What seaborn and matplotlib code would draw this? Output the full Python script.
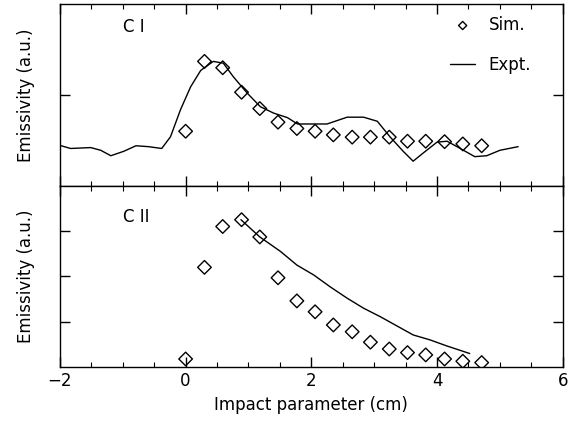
import matplotlib
matplotlib.use("Agg")
import matplotlib.pyplot as plt
import seaborn as sns
import numpy as np
from matplotlib.ticker import MultipleLocator

# ==================== Data ====================
sim_x = [0.0, 0.3, 0.59, 0.89, 1.18, 1.47, 1.77, 2.06, 2.35, 2.65, 2.94,
         3.24, 3.53, 3.82, 4.12, 4.41, 4.71]

# C I (top panel)
ci_sim = [0.60, 1.37, 1.30, 1.03, 0.85, 0.70, 0.63, 0.60, 0.56, 0.535, 0.535,
          0.535, 0.49, 0.49, 0.485, 0.46, 0.44]
ci_expt_x = [-1.98, -1.83, -1.51, -1.35, -1.19, -0.98, -0.79, -0.59, -0.38,
             -0.24, -0.08, 0.08, 0.24, 0.44, 0.60, 0.76, 0.98, 1.19, 1.40,
             1.62, 1.78, 2.25, 2.57, 2.83, 3.05, 3.25, 3.46, 3.62, 3.78,
             4.00, 4.16, 4.37, 4.60, 4.79, 5.00, 5.29]
ci_expt_y = [0.44, 0.41, 0.42, 0.39, 0.33, 0.38, 0.44, 0.43, 0.41,
             0.54, 0.84, 1.09, 1.27, 1.37, 1.35, 1.20, 1.02, 0.87, 0.80,
             0.75, 0.68, 0.68, 0.755, 0.755, 0.71, 0.54, 0.38, 0.27, 0.36,
             0.48, 0.49, 0.41, 0.32, 0.33, 0.39, 0.43]

# C II (bottom panel)
cii_sim = [0.18, 2.20, 3.10, 3.25, 2.87, 1.97, 1.46, 1.22, 0.93, 0.78, 0.55,
           0.40, 0.32, 0.27, 0.18, 0.13, 0.10]
cii_expt_x = [0.88, 1.18, 1.51, 1.77, 2.04, 2.30, 2.57, 2.83, 3.10, 3.36,
              3.62, 3.89, 4.15, 4.52]
cii_expt_y = [3.25, 2.87, 2.55, 2.25, 2.03, 1.77, 1.52, 1.30, 1.11, 0.91,
              0.71, 0.60, 0.47, 0.30]

# ==================== Style ====================
sns.set_style("ticks")
plt.rcParams.update({
    'font.family': ['DejaVu Sans'],
    'font.size': 12,
    'text.color': 'black',
    'axes.labelcolor': 'black',
    'axes.edgecolor': 'black',
    'xtick.color': 'black',
    'ytick.color': 'black',
    'axes.linewidth': 1.0,
})

fig, (ax1, ax2) = plt.subplots(2, 1, figsize=(5.76, 4.22), dpi=100, sharex=True)
fig.subplots_adjust(left=0.104, right=0.977, top=0.99, bottom=0.13, hspace=0)

marker_kw = dict(marker='D', s=48, facecolor='none', edgecolor='black', linewidth=1.0)

# Top panel
sns.scatterplot(x=sim_x, y=ci_sim, ax=ax1, label='Sim.', zorder=3, **marker_kw)
sns.lineplot(x=ci_expt_x, y=ci_expt_y, ax=ax1, color='black', linewidth=1.0,
             label='Expt.', sort=False)
ax1.set_ylim(0, 2)
ax1.set_yticks([1])
ax1.text(0.125, 0.874, 'C I', transform=ax1.transAxes, ha='left', va='center', fontsize=12)
ax1.legend(loc='upper right', bbox_to_anchor=(0.96, 1.0), frameon=False, fontsize=12,
           labelspacing=1.3, handlelength=1.5, markerscale=0.6, borderaxespad=0.3)

# Bottom panel
sns.scatterplot(x=sim_x, y=cii_sim, ax=ax2, zorder=3, **marker_kw)
sns.lineplot(x=cii_expt_x, y=cii_expt_y, ax=ax2, color='black', linewidth=1.0, sort=False)
ax2.set_ylim(0, 4)
ax2.set_yticks([1, 2, 3])
ax2.text(0.125, 0.83, 'C II', transform=ax2.transAxes, ha='left', va='center', fontsize=12)

for ax in (ax1, ax2):
    ax.set_xlim(-2, 6)
    ax.xaxis.set_major_locator(MultipleLocator(2))
    ax.xaxis.set_minor_locator(MultipleLocator(0.5))
    ax.tick_params(which='both', direction='in', top=True, right=True,
                   bottom=True, left=True, width=1.0, color='black')
    ax.tick_params(which='major', length=7)
    ax.tick_params(which='minor', length=3.5, width=0.8)
    ax.tick_params(axis='y', which='minor', left=False, right=False)
    ax.tick_params(axis='y', labelleft=False)
    ax.set_ylabel('Emissivity (a.u.)', fontsize=12)
    ax.yaxis.set_label_coords(-0.05, 0.5)
    for spine in ax.spines.values():
        spine.set_visible(True)
        spine.set_linewidth(1.0)

ax1.tick_params(axis='x', labelbottom=False)
ax2.set_xlabel('Impact parameter (cm)', fontsize=12)

fig.savefig('out.png', dpi=100)
